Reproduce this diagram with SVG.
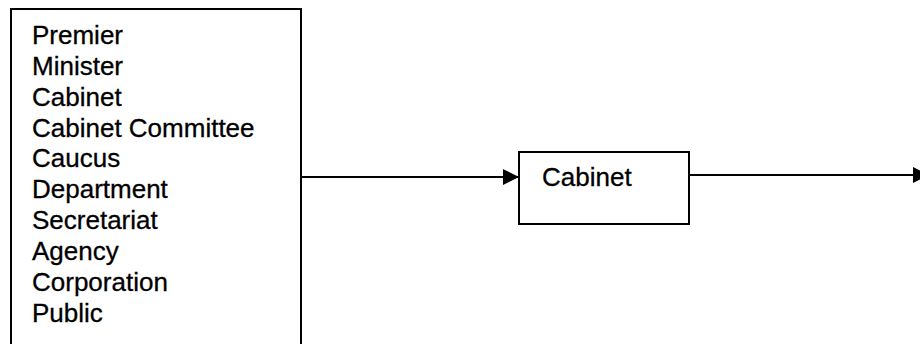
<svg xmlns="http://www.w3.org/2000/svg" width="920" height="344" viewBox="0 0 920 344">
  <style>
    .box { fill: #ffffff; stroke: #000000; stroke-width: 2; }
    .lbl { font-family: "Liberation Sans", Arial, sans-serif; font-size: 26px; fill: #000000; stroke: #000000; stroke-width: 0.3; }
    .conn { stroke: #000000; stroke-width: 2; fill: none; }
  </style>
  <defs>
    <marker id="arrow" markerWidth="16" markerHeight="16" refX="16" refY="8" orient="auto" markerUnits="userSpaceOnUse">
      <path d="M0,0 L16,8 L0,16 Z" fill="#000000"/>
    </marker>
  </defs>
  <rect width="920" height="344" fill="#ffffff"/>
  <g id="sources">
    <rect class="box" x="11" y="9" width="290" height="345"/>
    <text class="lbl" x="32" y="44">Premier</text>
    <text class="lbl" x="32" y="75">Minister</text>
    <text class="lbl" x="32" y="106">Cabinet</text>
    <text class="lbl" x="32" y="137">Cabinet Committee</text>
    <text class="lbl" x="32" y="167">Caucus</text>
    <text class="lbl" x="32" y="198">Department</text>
    <text class="lbl" x="32" y="229">Secretariat</text>
    <text class="lbl" x="32" y="260">Agency</text>
    <text class="lbl" x="32" y="291">Corporation</text>
    <text class="lbl" x="32" y="322">Public</text>
  </g>
  <g id="cabinet">
    <rect class="box" x="519" y="152" width="170" height="72"/>
    <text class="lbl" x="542" y="186">Cabinet</text>
  </g>
  <g id="connectors">
    <line class="conn" x1="301" y1="177" x2="519" y2="177" marker-end="url(#arrow)"/>
    <line class="conn" x1="689" y1="175" x2="929" y2="175" marker-end="url(#arrow)"/>
  </g>
</svg>
